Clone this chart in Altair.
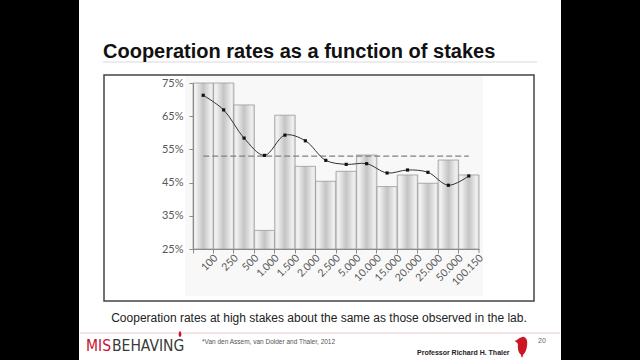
import altair as alt
import pandas as pd

# Cooperation rate by stake size, with a smoothed trend and the overall mean
stakes = ["100", "250", "500", "1.000", "1.500", "2.000", "2.500", "5.000",
          "10.000", "15.000", "20.000", "25.000", "50.000", "100.150"]
coop_rate = [75, 75, 68.4, 30.6, 65.3, 49.9, 45.4, 48.4, 53.3, 43.8, 47.3, 44.8, 51.8, 47.3]
trend = [71.3, 66.9, 58.4, 53.2, 59.3, 57.6, 51.7, 50.5, 50.7, 47.9, 48.8, 48.1, 44.2, 47.0]
overall_mean = 53
y_ticks = [25, 35, 45, 55, 65, 75]

title_text = "Cooperation rates as a function of stakes"
caption_text = "Cooperation rates at high stakes about the same as those observed in the lab."
source_text = "*Van den Assem, van Dolder and Thaler, 2012"
author_text = "Professor Richard H. Thaler"
page_text = "20"

# plot area placement on the 640x360 slide
X0, Y0 = 193, 83
PLOT_W, PLOT_H = 286, 166

df = pd.DataFrame({"stake": stakes, "rate": coop_rate, "trend": trend, "base": 25})

x_scale = alt.Scale(domain=stakes, paddingInner=0, paddingOuter=0)
y_scale = alt.Scale(domain=[25, 75], zero=False, nice=False)


def px(v):
    return alt.value(v - X0)


def py(v):
    return alt.value(v - Y0)


def one_row(**kw):
    return pd.DataFrame({k: [v] for k, v in kw.items()})


def rect(x1, y1, x2, y2, **style):
    return alt.Chart(one_row(k=0)).mark_rect(**style).encode(
        x=px(x1), x2=px(x2), y=py(y1), y2=py(y2))


def text(t, x, y, size, color, font="Liberation Sans", weight="normal",
         align="left", baseline="alphabetic"):
    return alt.Chart(one_row(t=t)).mark_text(
        align=align, baseline=baseline, fontSize=size, font=font,
        fontWeight=weight, color=color).encode(x=px(x), y=py(y), text="t:N")


def hline(x1, x2, y, color, width=1):
    return alt.Chart(one_row(k=0)).mark_rule(color=color, strokeWidth=width).encode(
        x=px(x1), x2=px(x2), y=py(y))


LOGO_FONT = "DejaVu Sans Condensed, Roboto, sans-serif"

# slide furniture
slide = rect(79, 0, 561, 360, color="white")
title = text(title_text, 103, 58, 20, "#111111", weight="bold")
title_rule = hline(103, 537, 62, "#d9d9d9")
frame = rect(104, 75, 534, 301, fill="white", stroke="#444444", strokeWidth=1.5)
chart_bg = rect(185, 76, 483, 296, color="#f8f8f8")
caption = text(caption_text, 319, 322, 12, "#222222", align="center")
footer_rule = hline(80, 560, 333, "#f0c8cc")
logo_red = text("MIS", 86, 351, 15.5, "#c8102e", font=LOGO_FONT)
logo_dark = text("BEHAVING", 112, 351, 15.5, "#3a3a3a", font=LOGO_FONT)
logo_drop = alt.Chart(one_row(k=0)).mark_point(
    shape="M0,-1 C0.6,-0.2 0.6,0.6 0,1 C-0.6,0.6 -0.6,-0.2 0,-1 Z",
    filled=True, color="#c8102e", size=40, opacity=1).encode(x=px(180), y=py(334))
source = text(source_text, 202, 344, 6.5, "#555555")
author = text(author_text, 417, 355, 7, "#222222", weight="bold")
page = text(page_text, 538, 343, 7, "#666666")
bird = alt.Chart(one_row(k=0)).mark_point(
    shape=("M0.1,-1 C0.45,-0.95 0.55,-0.6 0.5,-0.2 C0.45,0.3 0.3,0.6 0.1,0.75 "
           "L0.05,1 L-0.05,1 L-0.1,0.75 C-0.35,0.55 -0.45,0.2 -0.4,-0.3 "
           "C-0.5,-0.45 -0.65,-0.5 -0.7,-0.6 C-0.45,-0.65 -0.3,-0.9 0.1,-1 Z"),
    filled=True, color="#cc1424", size=420, opacity=1).encode(x=px(522), y=py(347))

bar_fill = alt.Gradient(
    gradient="linear", x1=0, x2=1, y1=0, y2=0,
    stops=[alt.GradientStop(color="#e2e2e2", offset=0),
           alt.GradientStop(color="#f2f2f2", offset=0.12),
           alt.GradientStop(color="#c4c4c4", offset=0.5),
           alt.GradientStop(color="#f0f0f0", offset=0.88),
           alt.GradientStop(color="#dcdcdc", offset=1)])

x_axis = alt.Axis(title=None, labelAngle=-45, labelAlign="right", labelBaseline="middle",
                  bandPosition=0, labelOffset=13, labelPadding=3, tickSize=4,
                  labelFont="Lato", labelFontSize=10.5, labelColor="#595959",
                  domainColor="#8a8a8a", tickColor="#8a8a8a", grid=False, zindex=2)
y_axis = alt.Axis(title=None, values=y_ticks, labelExpr="datum.value + '%'",
                  tickSize=4, labelPadding=6, labelFont="Lato", labelFontSize=11,
                  labelColor="#595959", domainColor="#8a8a8a", tickColor="#8a8a8a",
                  grid=False, zindex=2)

base = alt.Chart(df)
bars = base.mark_bar(color=bar_fill, stroke="#9a9a9a", strokeWidth=0.8).encode(
    x=alt.X("stake:N", scale=x_scale, axis=x_axis),
    y=alt.Y("rate:Q", scale=y_scale, axis=y_axis),
    y2="base:Q")
end_tick = alt.Chart(one_row(k=0)).mark_rule(color="#8a8a8a").encode(
    x=alt.value(PLOT_W), y=alt.value(PLOT_H), y2=alt.value(PLOT_H + 4))
mean_rule = alt.Chart(one_row(a=stakes[0], b=stakes[-1], m=overall_mean)).mark_rule(
    color="#808080", strokeDash=[6, 3], strokeWidth=1.3).encode(
    x=alt.X("a:N", scale=x_scale, axis=x_axis), x2="b:N",
    y=alt.Y("m:Q", scale=y_scale, axis=y_axis))
trend_line = base.mark_line(color="#333333", strokeWidth=1, interpolate="catmull-rom").encode(
    x=alt.X("stake:N", scale=x_scale, axis=x_axis),
    y=alt.Y("trend:Q", scale=y_scale, axis=y_axis))
trend_pts = base.mark_point(shape="square", filled=True, color="#111111", size=10,
                            opacity=1).encode(
    x=alt.X("stake:N", scale=x_scale, axis=x_axis),
    y=alt.Y("trend:Q", scale=y_scale, axis=y_axis))

chart = alt.layer(
    slide, title_rule, title, frame, chart_bg,
    bars, end_tick, mean_rule, trend_line, trend_pts,
    caption, footer_rule, logo_red, logo_dark, logo_drop, source, author, page, bird,
).properties(
    width=PLOT_W, height=PLOT_H,
    autosize=alt.AutoSizeParams(type="none"),
    padding={"left": X0, "top": Y0, "right": 640 - X0 - PLOT_W, "bottom": 360 - Y0 - PLOT_H},
    background="black",
).configure_view(stroke=None)

chart.save("out.html", embed_options={"renderer": "svg", "actions": False})
